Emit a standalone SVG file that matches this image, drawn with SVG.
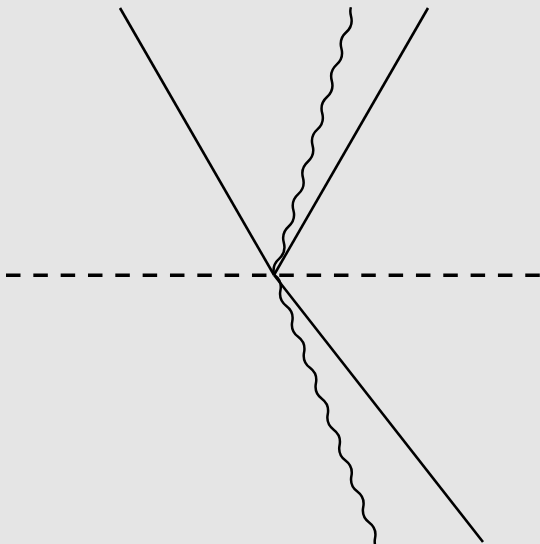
<svg xmlns="http://www.w3.org/2000/svg" width="540" height="544" viewBox="0 0 540 544">
  <style>
    .ray { fill: none; stroke: #000; stroke-width: 2.6; stroke-linecap: butt; }
    .wave { fill: none; stroke: #000; stroke-width: 2.5; stroke-linejoin: round; }
    .axis { fill: none; stroke: #000; stroke-width: 3.4; stroke-dasharray: 14.5 12.83; }
  </style>
  <rect x="0" y="0" width="540" height="544" fill="#e5e5e5"/>
  <g id="interface">
    <line class="axis" x1="6" y1="275.3" x2="540" y2="275.3"/>
  </g>
  <g id="connectors">
    <line id="incident" class="ray" x1="120" y1="8" x2="274" y2="275"/>
    <line id="reflected" class="ray" x1="274" y1="275" x2="428" y2="8"/>
    <line id="refracted" class="ray" x1="274" y1="275" x2="483" y2="542"/>
    <path id="wave-top" class="wave" transform="translate(353.4,8) rotate(106.52) scale(1,-1)" d="M0,-2.6 q 4.22,0 8.44,2.6 q 8.44,5.2 16.88,0 t 16.88,0 t 16.88,0 t 16.88,0 t 16.88,0 t 16.88,0 t 16.88,0 t 16.88,0 t 16.88,0 t 16.88,0 t 16.88,0 t 16.88,0 t 16.88,0 t 16.88,0 t 16.88,0 t 16.88,0"/>
    <path id="wave-bottom" class="wave" transform="translate(274.5,275) rotate(69.07)" d="M0,0 q 8.28,-5.2 16.56,0 t 16.56,0 t 16.56,0 t 16.56,0 t 16.56,0 t 16.56,0 t 16.56,0 t 16.56,0 t 16.56,0 t 16.56,0 t 16.56,0 t 16.56,0 t 16.56,0 t 16.56,0 t 16.56,0 t 16.56,0 t 16.56,0 q 4.14,2.6 8.28,2.6"/>
  </g>
</svg>
